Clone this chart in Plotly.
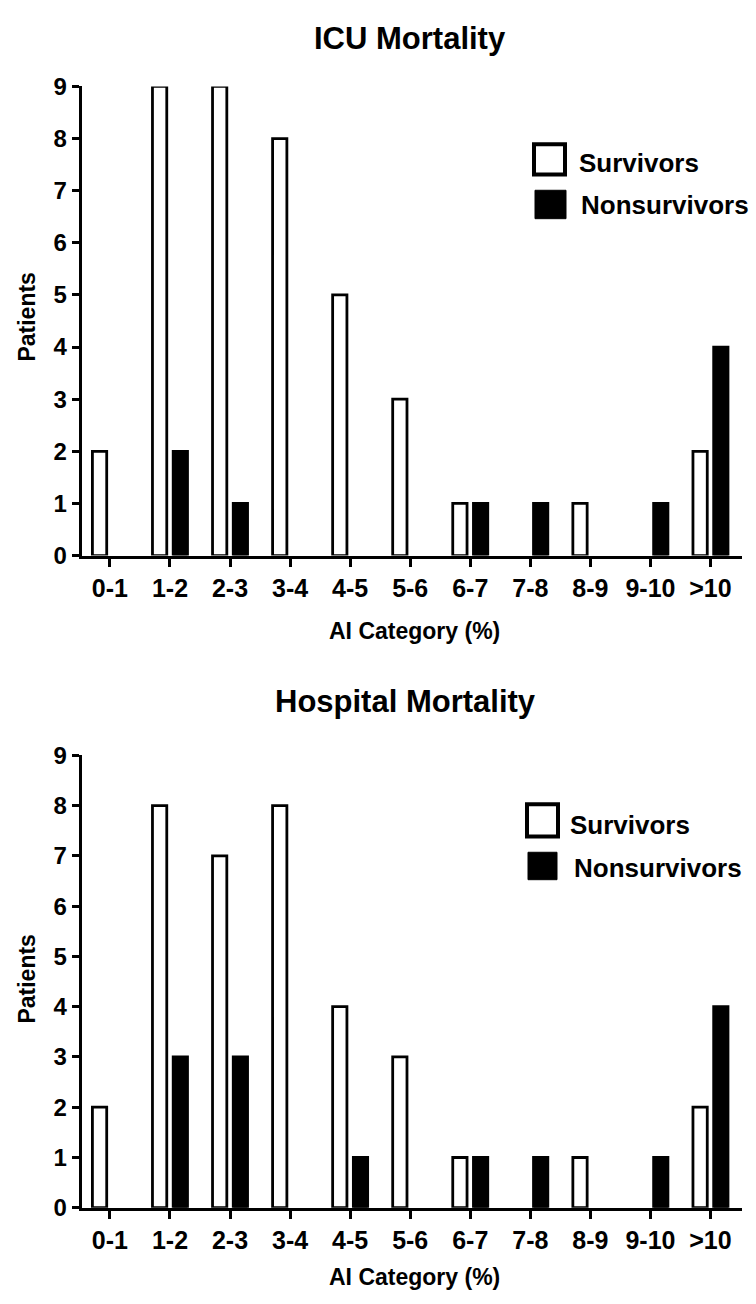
import plotly.graph_objects as go
from plotly.subplots import make_subplots

categories = ["0-1", "1-2", "2-3", "3-4", "4-5", "5-6", "6-7", "7-8", "8-9", "9-10", ">10"]
icu_survivors = [2, 9, 9, 8, 5, 3, 1, 0, 1, 0, 2]
icu_nonsurvivors = [0, 2, 1, 0, 0, 0, 1, 1, 0, 1, 4]
hosp_survivors = [2, 8, 7, 8, 4, 3, 1, 0, 1, 0, 2]
hosp_nonsurvivors = [0, 3, 3, 0, 1, 0, 1, 1, 0, 1, 4]
y_ticks = [0, 1, 2, 3, 4, 5, 6, 7, 8, 9]
titles = ["ICU Mortality", "Hospital Mortality"]
series_names = ["Survivors", "Nonsurvivors"]

W, H = 756, 1304
FONT = "Liberation Sans, Arial, sans-serif"


def px(x):
    return x / W


def py(y):
    return 1 - y / H


def nz(vals):
    # zero-height bars are not drawn in the reference
    return [v if v else None for v in vals]


fig = make_subplots(rows=2, cols=1)

panels = [(icu_survivors, icu_nonsurvivors), (hosp_survivors, hosp_nonsurvivors)]
for i, (surv, non) in enumerate(panels, start=1):
    fig.add_trace(go.Bar(x=categories, y=nz(surv), name=series_names[0],
                         marker=dict(color="white", line=dict(color="black", width=2.8)),
                         showlegend=False), row=i, col=1)
    fig.add_trace(go.Bar(x=categories, y=nz(non), name=series_names[1],
                         marker=dict(color="black", line=dict(color="black", width=2.8)),
                         showlegend=False), row=i, col=1)

x_dom = [px(81.7), px(741.7)]
y_doms = [[py(553), py(74)], [py(1219), py(757)]]

axis_common = dict(showline=True, linecolor="black", linewidth=3, ticks="outside",
                   tickcolor="black", tickwidth=2.5, showgrid=False, zeroline=False)
for i in range(2):
    xa = "xaxis" if i == 0 else "xaxis2"
    ya = "yaxis" if i == 0 else "yaxis2"
    fig.update_layout(**{
        xa: dict(axis_common, domain=x_dom, range=[-0.47, 10.52], ticklen=8,
                 tickfont=dict(family=FONT, size=25, color="black", weight="bold")),
        ya: dict(axis_common, domain=y_doms[i], range=[0, 9], tickvals=y_ticks, ticklen=7,
                 tickfont=dict(family=FONT, size=24, color="black", weight="bold")),
    })

annotations = []
shapes = []
title_pos = [(410, 25), (405, 702)]
xtitle_y = [630, 1290]
ytitle_y = [310, 986]
for i in range(2):
    annotations.append(dict(text=titles[i], x=px(title_pos[i][0]), y=py(title_pos[i][1]),
                            xref="paper", yref="paper", showarrow=False,
                            xanchor="center", yanchor="middle",
                            font=dict(family=FONT, size=31, color="black", weight="bold")))
    annotations.append(dict(text="AI Category (%)", x=px(414), y=py(xtitle_y[i]),
                            xref="paper", yref="paper", showarrow=False,
                            xanchor="center", yanchor="middle",
                            font=dict(family=FONT, size=23, color="black", weight="bold")))
    annotations.append(dict(text="Patients", x=px(27), y=py(ytitle_y[i]), textangle=-90,
                            xref="paper", yref="paper", showarrow=False,
                            xanchor="center", yanchor="middle",
                            font=dict(family=FONT, size=23, color="black", weight="bold")))

legends = [
    dict(sbox=(532, 131, 567, 166), stext=(577, 152), nbox=(535, 180, 566, 209), ntext=(579, 195)),
    dict(sbox=(525, 805, 560, 842), stext=(568, 828), nbox=(528, 856, 557, 884), ntext=(572, 872)),
]
for lg in legends:
    x0, y0, x1, y1 = lg["sbox"]
    shapes.append(dict(type="rect", xref="paper", yref="paper",
                       x0=px(x0 + 2), x1=px(x1 - 2), y0=py(y1 - 2), y1=py(y0 + 2),
                       fillcolor="white", line=dict(color="black", width=4)))
    x0, y0, x1, y1 = lg["nbox"]
    shapes.append(dict(type="rect", xref="paper", yref="paper",
                       x0=px(x0), x1=px(x1), y0=py(y1), y1=py(y0),
                       fillcolor="black", line=dict(color="black", width=1)))
    for name, (tx, ty) in zip(series_names, [lg["stext"], lg["ntext"]]):
        annotations.append(dict(text=name, x=px(tx), y=py(ty), xref="paper", yref="paper",
                                showarrow=False, xanchor="left", yanchor="middle",
                                font=dict(family=FONT, size=26, color="black", weight="bold")))

fig.update_layout(width=W, height=H, margin=dict(l=0, r=0, t=0, b=0),
                  plot_bgcolor="white", paper_bgcolor="white",
                  barmode="group", bargap=0.31, bargroupgap=0.31,
                  annotations=annotations, shapes=shapes)

fig.write_html("out.html", config={"displayModeBar": False},
               post_script="document.body.style.margin='0px';document.body.style.overflow='hidden';")
